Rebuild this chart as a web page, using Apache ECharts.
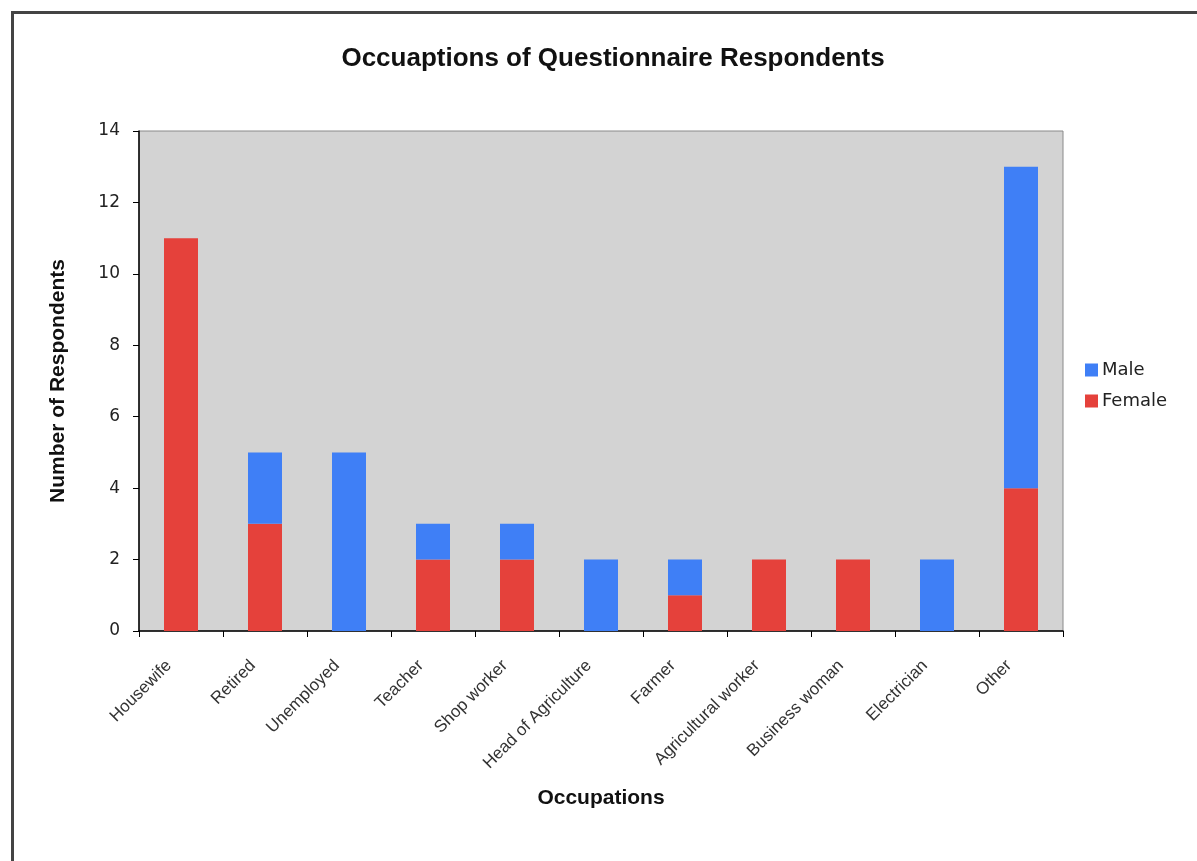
<!DOCTYPE html>
<html>
<head>
<meta charset="utf-8">
<title>Occuaptions of Questionnaire Respondents</title>
<script src="https://cdn.jsdelivr.net/npm/echarts@6/dist/echarts.min.js"></script>
<style>
  html, body { margin: 0; padding: 0; background: #ffffff; }
  #chart { width: 1197px; height: 861px; }
</style>
</head>
<body>
<div id="chart"></div>
<script>
// Occupation categories along the x axis
const occupations = [
  'Housewife', 'Retired', 'Unemployed', 'Teacher', 'Shop worker',
  'Head of Agriculture', 'Farmer', 'Agricultural worker', 'Business woman',
  'Electrician', 'Other'
];

// Respondent counts per occupation, stacked Female (bottom) + Male (top)
const femaleCounts = [11, 3, 0, 2, 2, 0, 1, 2, 2, 0, 4];
const maleCounts   = [0, 2, 5, 1, 1, 2, 1, 0, 0, 2, 9];

// Value axis range
const yMin = 0;
const yMax = 14;
const yStep = 2;

const chart = echarts.init(document.getElementById('chart'), null, { renderer: 'canvas' });

const option = {
  backgroundColor: '#ffffff',
  animation: false,
  title: {
    text: 'Occuaptions of Questionnaire Respondents',
    left: 608,
    top: 41,
    textAlign: 'center',
    textStyle: {
      fontFamily: '"Liberation Sans", Arial, sans-serif',
      fontWeight: 'bold',
      fontSize: 26,
      color: '#111111'
    }
  },
  graphic: [{
    type: 'rect',
    left: 10,
    top: 10,
    shape: { width: 1200, height: 870 },
    style: { fill: 'none', stroke: '#444444', lineWidth: 3 },
    silent: true,
    z: -1
  }],
  legend: {
    data: ['Male', 'Female'],
    orient: 'vertical',
    left: 1080,
    top: 356,
    itemWidth: 13,
    itemHeight: 13,
    itemGap: 13,
    icon: 'rect',
    textStyle: {
      fontFamily: '"DejaVu Sans", Verdana, sans-serif',
      fontSize: 18,
      color: '#222222',
      padding: [0, 0, 0, -1]
    }
  },
  grid: {
    left: 139,
    top: 131,
    right: 134,
    bottom: 230,
    show: true,
    backgroundColor: '#d3d3d3',
    borderColor: '#8a8a8a',
    borderWidth: 1
  },
  xAxis: {
    type: 'category',
    data: occupations,
    name: 'Occupations',
    nameLocation: 'middle',
    nameGap: 157,
    nameTextStyle: {
      fontFamily: '"Liberation Sans", Arial, sans-serif',
      fontWeight: 'bold',
      fontSize: 21,
      color: '#111111'
    },
    axisLine: { lineStyle: { color: '#000000', width: 1.5 } },
    axisTick: { show: true, alignWithLabel: false, length: 6, lineStyle: { color: '#000000' } },
    axisLabel: {
      rotate: 45,
      interval: 0,
      margin: 20,
      padding: [0, 17, 0, 0],
      fontFamily: '"Liberation Sans", Arial, sans-serif',
      fontSize: 17,
      color: '#333333'
    },
    splitLine: { show: false }
  },
  yAxis: {
    type: 'value',
    min: yMin,
    max: yMax,
    interval: yStep,
    name: 'Number of Respondents',
    nameLocation: 'middle',
    nameGap: 70,
    nameTextStyle: {
      fontFamily: '"Liberation Sans", Arial, sans-serif',
      fontWeight: 'bold',
      fontSize: 21,
      color: '#111111'
    },
    axisLine: { show: true, lineStyle: { color: '#000000', width: 1.5 } },
    axisTick: { show: true, length: 6, lineStyle: { color: '#000000' } },
    axisLabel: {
      margin: 19,
      fontFamily: '"DejaVu Sans", Verdana, sans-serif',
      fontSize: 17,
      color: '#222222'
    },
    splitLine: { show: false }
  },
  series: [
    {
      name: 'Female',
      type: 'bar',
      stack: 'total',
      data: femaleCounts,
      barWidth: 34,
      itemStyle: { color: '#e5413b' }
    },
    {
      name: 'Male',
      type: 'bar',
      stack: 'total',
      data: maleCounts,
      barWidth: 34,
      itemStyle: { color: '#3f7ff6' }
    }
  ]
};

chart.setOption(option);
</script>
</body>
</html>
